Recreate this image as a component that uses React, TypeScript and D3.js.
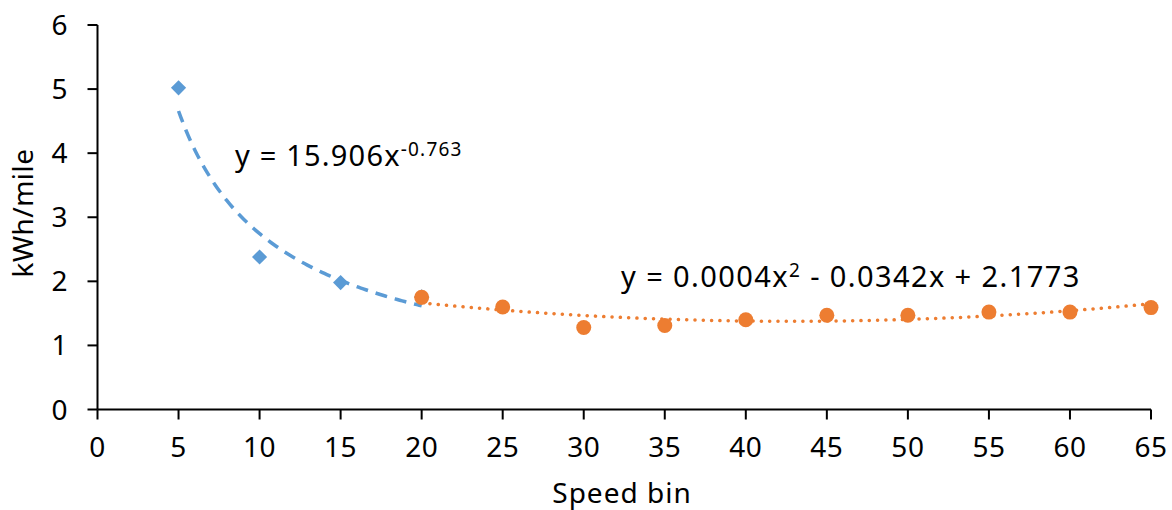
import React from "react";
import * as d3 from "d3";

const blueX = [5, 10, 15, 20];
const blueY = [5.02, 2.38, 1.98, 1.76];
const orangeX = [20, 25, 30, 35, 40, 45, 50, 55, 60, 65];
const orangeY = [1.75, 1.6, 1.28, 1.31, 1.4, 1.47, 1.47, 1.52, 1.52, 1.59];
const xTicks = [0, 5, 10, 15, 20, 25, 30, 35, 40, 45, 50, 55, 60, 65];
const yTicks = [0, 1, 2, 3, 4, 5, 6];

const W = 1172, H = 510;
const FONT = "'Noto Sans', sans-serif";
const BLUE = "#5B9BD5";
const ORANGE = "#ED7D31";

function powerFit(xs: number[], ys: number[]) {
  const lx = xs.map(Math.log), ly = ys.map(Math.log);
  const mx = d3.mean(lx)!, my = d3.mean(ly)!;
  let sxy = 0, sxx = 0;
  lx.forEach((v, i) => { sxy += (v - mx) * (ly[i] - my); sxx += (v - mx) ** 2; });
  const b = sxy / sxx;
  const a = Math.exp(my - b * mx);
  return (x: number) => a * Math.pow(x, b);
}

function quadFit(xs: number[], ys: number[]) {
  const S = (p: number) => d3.sum(xs, (x) => Math.pow(x, p));
  const T = (p: number) => d3.sum(xs, (x, i) => Math.pow(x, p) * ys[i]);
  const M = [
    [S(4), S(3), S(2), T(2)],
    [S(3), S(2), S(1), T(1)],
    [S(2), S(1), S(0), T(0)],
  ];
  for (let i = 0; i < 3; i++) {
    for (let j = i + 1; j < 3; j++) {
      const f = M[j][i] / M[i][i];
      for (let k = i; k < 4; k++) M[j][k] -= f * M[i][k];
    }
  }
  const r = [0, 0, 0];
  for (let i = 2; i >= 0; i--) {
    let s = M[i][3];
    for (let k = i + 1; k < 3; k++) s -= M[i][k] * r[k];
    r[i] = s / M[i][i];
  }
  return (x: number) => r[0] * x * x + r[1] * x + r[2];
}

export default function App() {
  const x = d3.scaleLinear().domain([0, 65]).range([97.5, 1151]);
  const y = d3.scaleLinear().domain([0, 6]).range([409.5, 25]);

  const pf = powerFit(blueX, blueY);
  const qf = quadFit(orangeX, orangeY);
  const line = d3.line<[number, number]>().x((d) => x(d[0])).y((d) => y(d[1]));
  const powPts: [number, number][] = d3.range(0, 101).map((i) => {
    const xv = 5 + (15 * i) / 100;
    return [xv, pf(xv)];
  });
  const quadPts: [number, number][] = d3.range(0, 101).map((i) => {
    const xv = 20 + (45 * i) / 100;
    return [xv, qf(xv)];
  });

  const diamond = d3.symbol().type(d3.symbolSquare).size(115)();

  return (
    <svg width={W} height={H} style={{ position: "absolute", left: 0, top: 0, background: "#fff" }} fontFamily={FONT}>
      {/* axes */}
      <line x1={x(0)} x2={x(65)} y1={y(0)} y2={y(0)} stroke="#000" strokeWidth={2} />
      <line x1={x(0)} x2={x(0)} y1={y(0)} y2={y(6)} stroke="#000" strokeWidth={2} />
      {yTicks.map((t) => (
        <g key={"y" + t}>
          <line x1={x(0) - 10} x2={x(0)} y1={y(t)} y2={y(t)} stroke="#000" strokeWidth={2} />
          <text x={68} y={y(t)} dy="0.36em" textAnchor="end" fontSize={28} letterSpacing={0.5} fill="#000">{t}</text>
        </g>
      ))}
      {xTicks.map((t) => (
        <g key={"x" + t}>
          <line x1={x(t)} x2={x(t)} y1={y(0)} y2={y(0) + 10} stroke="#000" strokeWidth={2} />
          <text x={x(t)} y={457} textAnchor="middle" fontSize={28} letterSpacing={0.5} fill="#000">{t}</text>
        </g>
      ))}
      <text x={622} y={503} textAnchor="middle" fontSize={28} letterSpacing={1} fill="#000">Speed bin</text>
      <text transform="translate(33,213) rotate(-90)" textAnchor="middle" fontSize={28} letterSpacing={0.5} fill="#000">kWh/mile</text>

      {/* trendlines */}
      <path d={line(powPts) || ""} fill="none" stroke={BLUE} strokeWidth={3.5} strokeDasharray="12,8" />
      <path d={line(quadPts) || ""} fill="none" stroke={ORANGE} strokeWidth={3.5} strokeDasharray="0.1,8.2" strokeLinecap="round" />

      {/* markers */}
      {blueX.map((v, i) => (
        <path key={"b" + i} d={diamond!} transform={`translate(${x(v)},${y(blueY[i])}) rotate(45)`} fill={BLUE} />
      ))}
      {orangeX.map((v, i) => (
        <circle key={"o" + i} cx={x(v)} cy={y(orangeY[i])} r={7.5} fill={ORANGE} />
      ))}

      {/* equations */}
      <text x={235} y={166} fontSize={29} letterSpacing={1.2} fill="#000">
        y = 15.906x<tspan fontSize={19} dy={-10}>-0.763</tspan>
      </text>
      <text x={621} y={287} fontSize={29} letterSpacing={1.4} fill="#000">
        y = 0.0004x<tspan fontSize={19} dy={-10}>2</tspan><tspan fontSize={29} dy={10}> - 0.0342x + 2.1773</tspan>
      </text>
    </svg>
  );
}
